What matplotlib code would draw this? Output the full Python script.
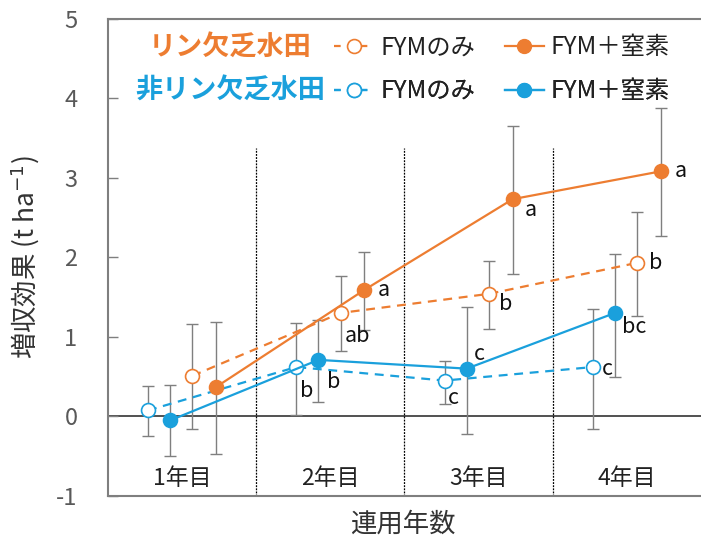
import numpy as np
import matplotlib
matplotlib.use("Agg")
import matplotlib.pyplot as plt
from matplotlib.lines import Line2D

plt.rcParams['font.family'] = ['Noto Sans CJK JP', 'DejaVu Sans']
plt.rcParams['axes.unicode_minus'] = False

# ---- data ----
years = ['1年目', '2年目', '3年目', '4年目']

# リン欠乏水田
p_fym = [0.51, 1.30, 1.54, 1.93]
p_fym_lo = [-0.16, 0.82, 1.10, 1.26]
p_fym_hi = [1.16, 1.77, 1.95, 2.57]
p_fymn = [0.37, 1.59, 2.73, 3.08]
p_fymn_lo = [-0.47, 1.08, 1.79, 2.27]
p_fymn_hi = [1.19, 2.07, 3.65, 3.87]

# 非リン欠乏水田
np_fym = [0.075, 0.62, 0.45, 0.62]
np_fym_lo = [-0.25, 0.02, 0.15, -0.16]
np_fym_hi = [0.38, 1.17, 0.70, 1.35]
np_fymn = [-0.05, 0.71, 0.60, 1.30]
np_fymn_lo = [-0.50, 0.18, -0.22, 0.50]
np_fymn_hi = [0.39, 1.21, 1.38, 2.04]

p_fym_sig = ['', 'ab', 'b', 'b']
p_fymn_sig = ['', 'a', 'a', 'a']
np_fym_sig = ['', 'b', 'c', 'c']
np_fymn_sig = ['', 'b', 'c', 'bc']

ORANGE = '#ED7D31'
BLUE = '#1AA0DC'
GRAY = '#7f7f7f'

fig = plt.figure(figsize=(7.01, 5.45), dpi=100)
ax = fig.add_axes([0.154, 0.090, 0.846, 0.876])

centers = np.arange(len(years)) + 0.5
series = [
    # values, lo, hi, x offset, color, open?, sig, label offsets (px: dx, dy-down)
    (np_fym, np_fym_lo, np_fym_hi, -0.23, BLUE, True, np_fym_sig,
     [(0, 0), (10, 24), (9, 17), (15, 2)]),
    (np_fymn, np_fymn_lo, np_fymn_hi, -0.08, BLUE, False, np_fymn_sig,
     [(0, 0), (15, 22), (13, -15), (19, 14)]),
    (p_fym, p_fym_lo, p_fym_hi, 0.07, ORANGE, True, p_fym_sig,
     [(0, 0), (17, 23), (17, 10), (18, 0)]),
    (p_fymn, p_fymn_lo, p_fymn_hi, 0.23, ORANGE, False, p_fymn_sig,
     [(0, 0), (19, 0), (18, 11), (20, 0)]),
]

# zero line and year dividers
ax.axhline(0, color='#333333', lw=1.2, zorder=1)
for xd in [1, 2, 3]:
    ax.plot([xd, xd], [-1, 3.37], color='black', lw=0.9, ls=(0, (1.5, 1)), zorder=1)

for vals, lo, hi, off, col, is_open, sig, offs in series:
    x = centers + off
    vals = np.array(vals)
    yerr = [vals - np.array(lo), np.array(hi) - vals]
    ax.errorbar(x, vals, yerr=yerr, fmt='none', ecolor=GRAY, elinewidth=1.0,
                capsize=4, capthick=1.0, zorder=2)
    ax.plot(x, vals, color=col, lw=1.6, ls=(0, (4, 3)) if is_open else '-',
            marker='o', ms=10, mfc='white' if is_open else col, mec=col,
            mew=1.2, zorder=3)
    for xi, yi, s, (dx, dy) in zip(x, vals, sig, offs):
        if s:
            ax.annotate(s, (xi, yi), xytext=(dx * 0.72, -dy * 0.72),
                        textcoords='offset points', ha='center', va='center',
                        fontsize=15.5, color='#111111', zorder=4)

for c, lab in zip(centers, years):
    ax.text(c, -0.78, lab, ha='center', va='center', fontsize=16.5, color='#222222')

ax.set_xlim(0, 4)
ax.set_ylim(-1, 5)
ax.set_xticks([])
ax.set_yticks(range(-1, 6))
ax.set_yticklabels([str(v) for v in range(-1, 6)])
ax.tick_params(axis='y', direction='in', length=7, width=1, color=GRAY,
               labelsize=17, labelcolor='#595959', pad=22)
for s in ['left', 'top', 'bottom']:
    ax.spines[s].set_color(GRAY)
    ax.spines[s].set_linewidth(1.5)
ax.spines['right'].set_visible(False)

ax.set_ylabel('増収効果 (t ha$^{-1}$)', fontsize=19, color='#333333')
ax.yaxis.set_label_coords(-0.112, 0.5)
ax.set_xlabel('連用年数', fontsize=19, color='#333333')
ax.xaxis.set_label_coords(0.497, -0.030)

# legend rows
def row(col, title, y):
    h = [Line2D([], [], color=col, lw=1.6, ls=(0, (3, 3)), marker='o', ms=10,
                mfc='white', mec=col, mew=1.2),
         Line2D([], [], color=col, lw=1.6, marker='o', ms=10, mfc=col, mec=col)]
    lg = ax.legend(h, ['FYMのみ', 'FYM＋窒素'], ncol=2, loc='center left',
                   bbox_to_anchor=(0.382, y), frameon=False, fontsize=17.5,
                   handlelength=1.6, handletextpad=0.3, columnspacing=1.2,
                   borderpad=0, borderaxespad=0)
    for t in lg.get_texts():
        t.set_color('#222222')
    ax.add_artist(lg)
    ax.text(0.206, y, title, transform=ax.transAxes, ha='center', va='center',
            fontsize=19.5, fontweight='bold', color=col)

row(ORANGE, 'リン欠乏水田', 0.940)
row(BLUE, '非リン欠乏水田', 0.848)

fig.savefig('out.png', dpi=100)
